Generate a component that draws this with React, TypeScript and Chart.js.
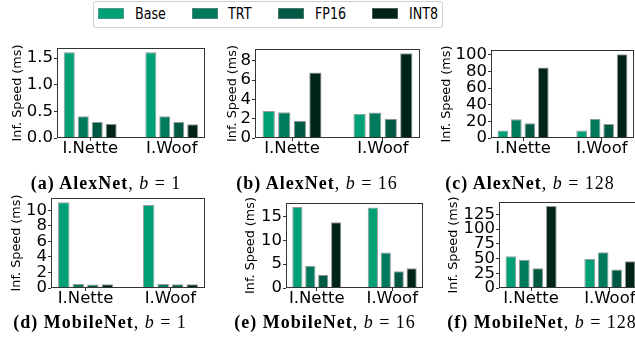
import React, { useEffect, useRef } from 'react';
import { Chart, registerables } from 'chart.js';

Chart.register(...registerables);

// ---------- data ----------
const seriesNames = ['Base', 'TRT', 'FP16', 'INT8'];
const categories = ['I.Nette', 'I.Woof'];

// values are [I.Nette, I.Woof]
const alexB1Base = [1.61, 1.61];
const alexB1TRT = [0.41, 0.41];
const alexB1FP16 = [0.3, 0.3];
const alexB1INT8 = [0.27, 0.26];
const alexB1Ticks = ['0.0', '0.5', '1.0', '1.5'];

const alexB16Base = [2.8, 2.53];
const alexB16TRT = [2.68, 2.66];
const alexB16FP16 = [1.8, 2.0];
const alexB16INT8 = [6.8, 8.8];
const alexB16Ticks = ['0', '2', '4', '6', '8'];

const alexB128Base = [8.9, 8.9];
const alexB128TRT = [22.7, 23.3];
const alexB128FP16 = [17.8, 16.8];
const alexB128INT8 = [84.7, 100.8];
const alexB128Ticks = ['0', '20', '40', '60', '80', '100'];

const mobB1Base = [11.05, 10.7];
const mobB1TRT = [0.52, 0.52];
const mobB1FP16 = [0.45, 0.47];
const mobB1INT8 = [0.48, 0.48];
const mobB1Ticks = ['0', '2', '4', '6', '8', '10'];

const mobB16Base = [17.0, 16.9];
const mobB16TRT = [4.65, 7.46];
const mobB16FP16 = [2.8, 3.5];
const mobB16INT8 = [13.8, 4.16];
const mobB16Ticks = ['0', '5', '10', '15'];

const mobB128Base = [53.8, 49.4];
const mobB128TRT = [48, 60.6];
const mobB128FP16 = [33.4, 31.2];
const mobB128INT8 = [139, 45.3];
const mobB128Ticks = ['0', '25', '50', '75', '100', '125'];

// ---------- style ----------
const colors = ['#00a077', '#007a5c', '#005a43', '#01241a'];
const EDGE = '#9a9a9a';
const SANS = '"DejaVu Sans", sans-serif';
const SERIF = '"Liberation Serif", "DejaVu Serif", serif';
const X_MIN = -0.4075;
const X_MAX = 1.4075;

const framePlugin = {
  id: 'frame',
  afterDraw(chart: any) {
    const { ctx, chartArea: a } = chart;
    ctx.save();
    ctx.strokeStyle = '#333';
    ctx.lineWidth = 1;
    ctx.strokeRect(a.left + 0.5, a.top + 0.5, a.right - a.left - 1, a.bottom - a.top - 1);
    ctx.restore();
  },
};

type PanelProps = {
  values: number[][];
  ticks: string[];
  L: number;
  T: number;
  R: number;
  B: number;
  titleDist: number;
};

const PT = 12;
const PR = 6;
const HX = 26;

function Panel({ values, ticks, L, T, R, B, titleDist }: PanelProps) {
  const ref = useRef<HTMLCanvasElement>(null);
  const wy = Math.round(titleDist + 7.68);
  const left = L - wy;
  const top = T - PT;
  const width = wy + (R + 1 - L) + PR;
  const height = PT + (B + 1 - T) + HX;

  useEffect(() => {
    const all = values.flat();
    const yMax = Math.max(...all) * 1.05;
    const chart = new Chart(ref.current as HTMLCanvasElement, {
      type: 'bar',
      data: {
        datasets: seriesNames.map((name, i) => ({
          label: name,
          data: values[i].map((v, j) => ({ x: j, y: v })),
          backgroundColor: colors[i],
          borderColor: EDGE,
          borderWidth: 1,
          categoryPercentage: 0.685,
          barPercentage: 0.79,
        })),
      } as any,
      options: {
        responsive: false,
        animation: false,
        events: [],
        layout: { padding: { top: PT, right: PR, left: 0, bottom: 0 } },
        plugins: { legend: { display: false }, tooltip: { enabled: false } },
        scales: {
          x: {
            type: 'linear',
            min: X_MIN,
            max: X_MAX,
            offset: false,
            afterBuildTicks: (s: any) => {
              s.ticks = categories.map((_, i) => ({ value: i }));
            },
            ticks: {
              callback: (v: any) => categories[Math.round(v)],
              font: { family: SANS, size: 16.5, lineHeight: 1.0 },
              color: '#000',
              padding: -1,
              maxRotation: 0,
              autoSkip: false,
            },
            grid: { offset: false, drawOnChartArea: false, tickLength: 3, color: '#333' },
            border: { display: false },
            afterFit: (s: any) => {
              s.height = HX;
              s.paddingLeft = 0;
              s.paddingRight = 0;
              s.paddingTop = 0;
              s.paddingBottom = 0;
            },
          },
          y: {
            type: 'linear',
            min: 0,
            max: yMax,
            afterBuildTicks: (s: any) => {
              s.ticks = ticks.map((t) => ({ value: parseFloat(t) }));
            },
            ticks: {
              callback: (v: any) => {
                const t = ticks.find((x) => Math.abs(parseFloat(x) - v) < 1e-9);
                return t ?? String(v);
              },
              font: { family: SANS, size: 16.5 },
              color: '#000',
              padding: 1,
              autoSkip: false,
            },
            grid: { drawOnChartArea: false, tickLength: 3, color: '#333' },
            border: { display: false },
            title: {
              display: true,
              text: 'Inf. Speed (ms)',
              font: { family: SANS, size: 12.8 },
              color: '#000',
              padding: 0,
            },
            afterFit: (s: any) => {
              s.width = wy;
              s.paddingLeft = 0;
              s.paddingRight = 0;
              s.paddingTop = 0;
              s.paddingBottom = 0;
            },
          },
        },
      } as any,
      plugins: [framePlugin],
    });
    return () => chart.destroy();
  }, []);

  return (
    <canvas
      ref={ref}
      width={width}
      height={height}
      style={{ position: 'absolute', left, top, width, height }}
    />
  );
}

function Caption({ label, net, b, cx, cy }: { label: string; net: string; b: string; cx: number; cy: number }) {
  return (
    <div
      style={{
        position: 'absolute',
        left: cx - 150,
        width: 300,
        top: cy - 11,
        height: 22,
        lineHeight: '22px',
        textAlign: 'center',
        fontFamily: SERIF,
        fontSize: 18,
        letterSpacing: 1,
        whiteSpace: 'nowrap',
        color: '#000',
      }}
    >
      <b>
        {label} {net}
      </b>
      , <i>b</i> = {b}
    </div>
  );
}

const legendSwatchX = [98, 192, 278, 372];
const legendTextX = [135, 228, 315, 409];

function Legend() {
  return (
    <>
      <div
        style={{
          position: 'absolute',
          left: 93,
          top: 1,
          width: 350,
          height: 27,
          border: '1px solid #d0d0d0',
          borderRadius: 3,
          boxSizing: 'border-box',
          background: '#fff',
        }}
      />
      {seriesNames.map((name, i) => (
        <React.Fragment key={name}>
          <div
            style={{
              position: 'absolute',
              left: legendSwatchX[i],
              top: 8,
              width: 26,
              height: 11,
              background: colors[i],
              boxSizing: 'border-box',
              border: '1px solid rgba(150,150,150,0.5)',
            }}
          />
          <div
            style={{
              position: 'absolute',
              left: legendTextX[i],
              top: 5.6,
              fontFamily: SANS,
              fontSize: 16.5,
              lineHeight: '16.5px',
              transform: 'scaleX(0.77)',
              transformOrigin: 'left center',
              whiteSpace: 'nowrap',
              color: '#000',
            }}
          >
            {name}
          </div>
        </React.Fragment>
      ))}
    </>
  );
}

export default function App() {
  return (
    <div
      style={{
        position: 'fixed',
        left: 0,
        top: 0,
        width: 635,
        height: 337,
        overflow: 'hidden',
        background: '#fff',
      }}
    >
      <Legend />
      <Panel values={[alexB1Base, alexB1TRT, alexB1FP16, alexB1INT8]} ticks={alexB1Ticks} L={57} T={48} R={204} B={137} titleDist={39.3} />
      <Panel values={[alexB16Base, alexB16TRT, alexB16FP16, alexB16INT8]} ticks={alexB16Ticks} L={255} T={49} R={419} B={137} titleDist={22.5} />
      <Panel values={[alexB128Base, alexB128TRT, alexB128FP16, alexB128INT8]} ticks={alexB128Ticks} L={491} T={50} R={633} B={137} titleDist={44.3} />
      <Panel values={[mobB1Base, mobB1TRT, mobB1FP16, mobB1INT8]} ticks={mobB1Ticks} L={51} T={198} R={204} B={287} titleDist={34} />
      <Panel values={[mobB16Base, mobB16TRT, mobB16FP16, mobB16INT8]} ticks={mobB16Ticks} L={286} T={203} R={422} B={287} titleDist={35.5} />
      <Panel values={[mobB128Base, mobB128TRT, mobB128FP16, mobB128INT8]} ticks={mobB128Ticks} L={499} T={202} R={641} B={287} titleDist={45} />
      <Caption label="(a)" net="AlexNet" b="1" cx={106} cy={183} />
      <Caption label="(b)" net="AlexNet" b="16" cx={317} cy={183} />
      <Caption label="(c)" net="AlexNet" b="128" cx={530} cy={183} />
      <Caption label="(d)" net="MobileNet" b="1" cx={100} cy={322} />
      <Caption label="(e)" net="MobileNet" b="16" cx={325} cy={322} />
      <Caption label="(f)" net="MobileNet" b="128" cx={542} cy={322} />
    </div>
  );
}
